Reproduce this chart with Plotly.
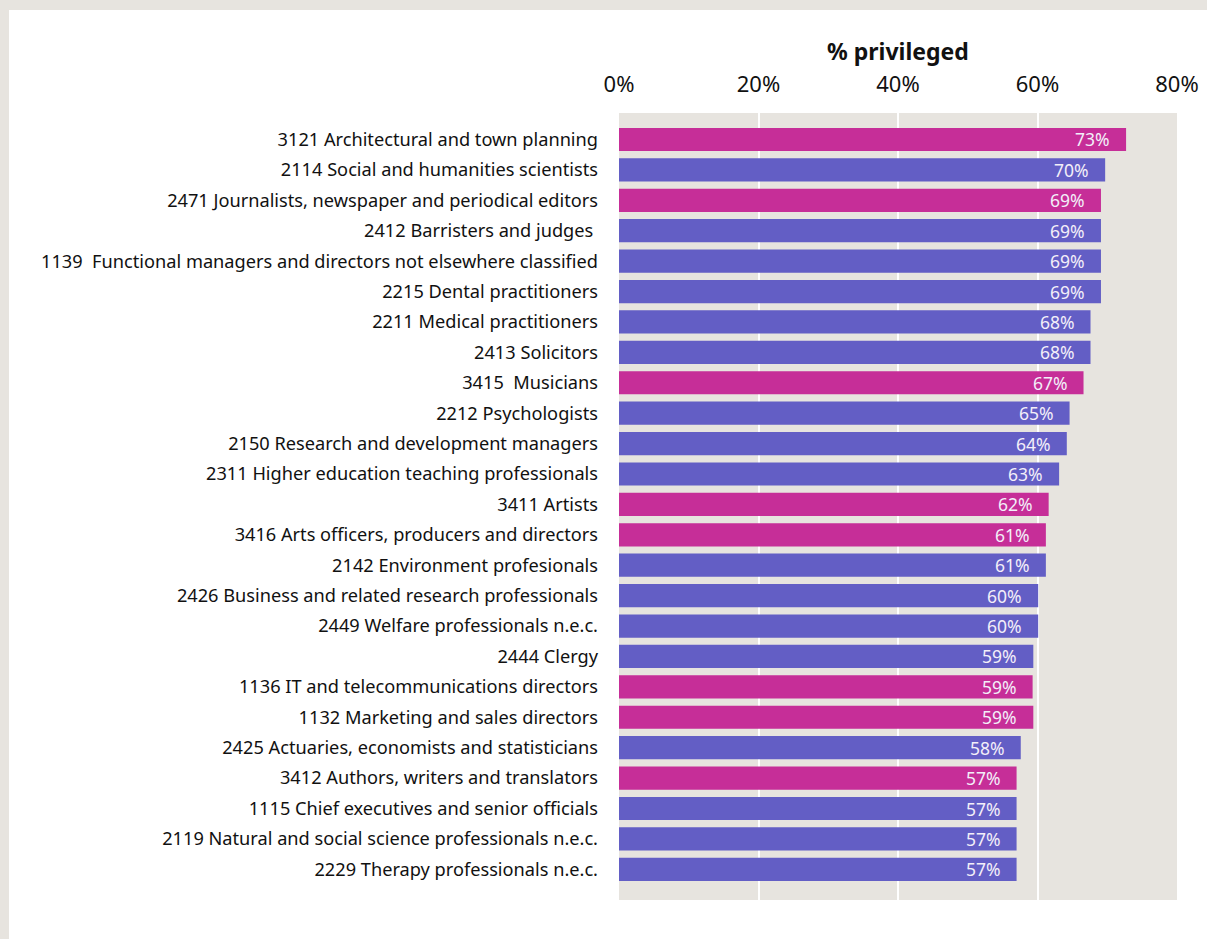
import plotly.graph_objects as go

# Occupations (SOC code + title), top to bottom
occupations = [
    "3121 Architectural and town planning",
    "2114 Social and humanities scientists",
    "2471 Journalists, newspaper and periodical editors",
    "2412 Barristers and judges\u00a0",
    "1139\u00a0\u00a0Functional managers and directors not elsewhere classified",
    "2215 Dental practitioners",
    "2211 Medical practitioners",
    "2413 Solicitors",
    "3415\u00a0\u00a0Musicians",
    "2212 Psychologists",
    "2150 Research and development managers",
    "2311 Higher education teaching professionals",
    "3411 Artists",
    "3416 Arts officers, producers and directors",
    "2142 Environment profesionals",
    "2426 Business and related research professionals",
    "2449 Welfare professionals n.e.c.",
    "2444 Clergy",
    "1136 IT and telecommunications directors",
    "1132 Marketing and sales directors",
    "2425 Actuaries, economists and statisticians",
    "3412 Authors, writers and translators",
    "1115 Chief executives and senior officials",
    "2119 Natural and social science professionals n.e.c.",
    "2229 Therapy professionals n.e.c.",
]

# Share of workers from privileged backgrounds (%)
pct_privileged = [
    72.7, 69.7, 69.1, 69.1, 69.1, 69.1, 67.6, 67.6, 66.6, 64.6,
    64.2, 63.1, 61.6, 61.2, 61.2, 60.1, 60.1, 59.4, 59.3, 59.4,
    57.6, 57.0, 57.0, 57.0, 57.0,
]

# Creative occupations are highlighted
is_creative = [
    True, False, True, False, False, False, False, False, True, False,
    False, False, True, True, False, False, False, False, True, True,
    False, True, False, False, False,
]

# Axis ticks
x_ticks = [0, 20, 40, 60, 80]
x_tick_labels = ["0%", "20%", "40%", "60%", "80%"]

CREATIVE = "#c62e98"
OTHER = "#635ec5"
PANEL = "#e7e4df"
FONT = "'Noto Sans', 'Open Sans', sans-serif"

colors = [CREATIVE if c else OTHER for c in is_creative]

fig = go.Figure(
    go.Bar(
        x=pct_privileged,
        y=occupations,
        orientation="h",
        marker=dict(color=colors, line=dict(width=0)),
        hoverinfo="skip",
    )
)

# value labels just inside the end of each bar
for occ, v in zip(occupations, pct_privileged):
    fig.add_annotation(
        x=v, y=occ, xref="x", yref="y",
        text=f"{round(v)}%",
        showarrow=False, xanchor="right", yanchor="middle",
        xshift=-14,
        font=dict(family=FONT, size=17.5, color="#f3eff9"),
    )

# axis title above the tick labels
fig.add_annotation(
    x=0.5, y=1.079, xref="paper", yref="paper",
    text="<b>% privileged</b>", showarrow=False,
    xanchor="center", yanchor="middle",
    font=dict(family=FONT, size=23, color="#111111"),
)

# page frame: grey strips along the top and left edges
W, H = 1207, 939
L, R, T, B = 619, 30, 113, 39
pw, ph = W - L - R, H - T - B


def px_to_paper_x(px):
    return (px - L) / pw


def py_to_paper_y(py):
    return (H - B - py) / ph


fig.add_shape(type="rect", xref="paper", yref="paper",
              x0=px_to_paper_x(0), x1=px_to_paper_x(W),
              y0=py_to_paper_y(10), y1=py_to_paper_y(0),
              fillcolor=PANEL, line=dict(width=0), layer="below")
fig.add_shape(type="rect", xref="paper", yref="paper",
              x0=px_to_paper_x(0), x1=px_to_paper_x(9),
              y0=py_to_paper_y(H), y1=py_to_paper_y(0),
              fillcolor=PANEL, line=dict(width=0), layer="below")

n = len(occupations)
fig.update_layout(
    width=W, height=H,
    margin=dict(l=L, r=R, t=T, b=B, pad=0),
    paper_bgcolor="white",
    plot_bgcolor=PANEL,
    bargap=0.237,
    showlegend=False,
    font=dict(family=FONT, color="#111111"),
    xaxis=dict(
        side="top",
        range=[0, 80],
        tickvals=x_ticks,
        ticktext=x_tick_labels,
        tickfont=dict(size=22, color="#111111"),
        ticks="outside", ticklen=11, tickcolor="rgba(0,0,0,0)",
        showgrid=True, gridcolor="white", gridwidth=2,
        zeroline=False, showline=False,
        automargin=False,
        fixedrange=True,
    ),
    yaxis=dict(
        type="category",
        categoryorder="array",
        categoryarray=occupations,
        range=[n - 1 + 1.009, -0.871],
        tickfont=dict(size=18.2, color="#111111"),
        ticks="", ticklabelstandoff=20,
        showgrid=False, zeroline=False, showline=False,
        automargin=False,
        fixedrange=True,
    ),
)

fig.write_html("out.html")
